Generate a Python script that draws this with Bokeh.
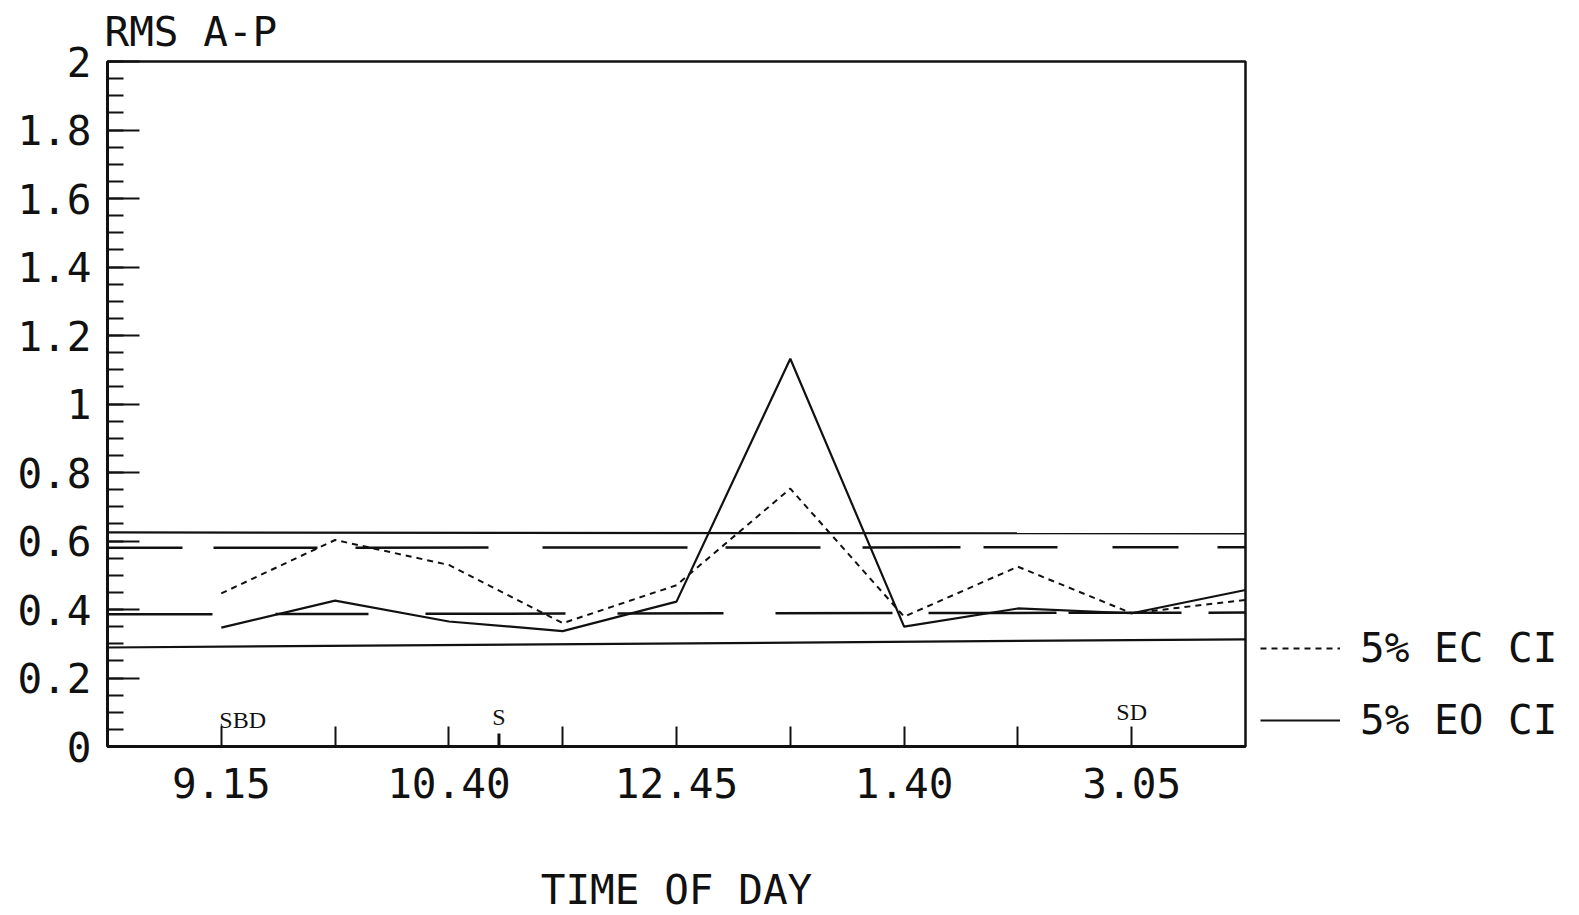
import math

from bokeh.core.properties import value
from bokeh.embed import file_html
from bokeh.models import FixedTicker, Legend, LegendItem, Range1d
from bokeh.plotting import figure
from bokeh.resources import INLINE

# Recording slots through the day and the RMS A-P sway for each record
slot = [1, 2, 3, 4, 5, 6, 7, 8, 9, 10]
rms_ec = [0.447, 0.603, 0.530, 0.360, 0.471, 0.753, 0.379, 0.525, 0.389, 0.428]
rms_eo = [0.347, 0.426, 0.365, 0.337, 0.423, 1.132, 0.350, 0.403, 0.389, 0.457]

# 5% confidence limits, value at the left and right ends of the axis
band_x = [0, 10]
eo_ci_upper = [0.625, 0.622]
eo_ci_lower = [0.289, 0.313]
ec_ci_upper = [0.580, 0.582]
ec_ci_lower = [0.386, 0.391]

# Axis ticks and labels
x_ticks = [1, 2, 3, 4, 5, 6, 7, 8, 9]
x_tick_labels = ["9.15", "", "10.40", "", "12.45", "", "1.40", "", "3.05"]
y_ticks = [0, 0.2, 0.4, 0.6, 0.8, 1, 1.2, 1.4, 1.6, 1.8, 2]
y_tick_labels = ["0", "0.2", "0.4", "0.6", "0.8", "1", "1.2", "1.4", "1.6", "1.8", "2"]
y_minor_ticks = [i * 0.05 for i in range(41)]

# Events marked along the time axis
event_x = [1, 3.44, 9]
event_labels = ["SBD", "S", "SD"]

FONT = "DejaVu Sans Mono"
SERIF = "Liberation Serif"
INK = "#111111"

p = figure(
    frame_width=1138,
    frame_height=685,
    x_range=Range1d(0, 10),
    y_range=Range1d(0, 2),
    output_backend="svg",
    toolbar_location=None,
    min_border_left=107,
    min_border_right=0,
    min_border_top=60,
    min_border_bottom=170,
)
p.grid.visible = False
p.background_fill_color = "white"
p.border_fill_color = "white"
p.outline_line_color = INK
p.outline_line_width = 2.5

# Y axis title sits above the frame, flush with its left edge
p.title.text = "RMS A-P"
p.title.align = "left"
p.title.text_font = FONT
p.title.text_font_size = "41px"
p.title.text_font_style = "normal"
p.title.text_color = INK
p.title.standoff = 11
p.title.offset = -3

# Y axis: ticks point into the frame
ya = p.yaxis[0]
ya.ticker = FixedTicker(ticks=y_ticks, minor_ticks=y_minor_ticks)
ya.major_label_overrides = dict(zip(y_ticks, y_tick_labels))
ya.major_tick_in = 32
ya.major_tick_out = 0
ya.minor_tick_in = 16
ya.minor_tick_out = 0
ya.major_tick_line_width = 2
ya.minor_tick_line_width = 2
ya.major_tick_line_color = INK
ya.minor_tick_line_color = INK
ya.axis_line_width = 3
ya.axis_line_color = INK
ya.major_label_standoff = 16
ya.major_label_text_font = FONT
ya.major_label_text_font_size = "41px"
ya.major_label_text_color = INK

# X axis: time of day
xa = p.xaxis[0]
xa.ticker = FixedTicker(ticks=x_ticks, minor_ticks=[])
xa.major_label_overrides = dict(zip(x_ticks, x_tick_labels))
xa.major_tick_in = 20
xa.major_tick_out = 0
xa.major_tick_line_width = 2
xa.major_tick_line_color = INK
xa.axis_line_width = 3
xa.axis_line_color = INK
xa.major_label_standoff = 21
xa.major_label_text_font = FONT
xa.major_label_text_font_size = "41px"
xa.major_label_text_color = INK
xa.axis_label = "TIME OF DAY"
xa.axis_label_text_font = FONT
xa.axis_label_text_font_size = "41px"
xa.axis_label_text_font_style = "normal"
xa.axis_label_text_color = INK
xa.axis_label_standoff = 65

# Confidence limits
p.line(band_x, eo_ci_upper, line_color=INK, line_width=2.2)
p.line(band_x, eo_ci_lower, line_color=INK, line_width=2.2)
p.line(band_x, ec_ci_upper, line_color=INK, line_width=2.5,
       line_dash="75 31 104 38 133 54 145 38 95 42 98 23 74 55 66 39")
p.line(band_x, ec_ci_lower, line_color=INK, line_width=2.5,
       line_dash="105 63 93 57 140 52 106 52 117 36 128 12 113 27")

# Measured series
ec_line = p.line(slot, rms_ec, line_color=INK, line_width=2, line_dash="6 5")
eo_line = p.line(slot, rms_eo, line_color=INK, line_width=2.2)

# Event markers on the time axis
p.scatter([event_x[1]], [0], marker="dash", size=26, angle=math.pi / 2,
          line_color=INK, line_width=3)
p.text(x=event_x[:1], y=[0], text=event_labels[:1], text_align="left",
       text_baseline="alphabetic", x_offset=-2, y_offset=-27,
       text_font=value(SERIF), text_font_size="24px", text_color=INK)
p.text(x=event_x[1:2], y=[0], text=event_labels[1:2], text_align="center",
       text_baseline="alphabetic", y_offset=-30,
       text_font=value(SERIF), text_font_size="24px", text_color=INK)
p.text(x=event_x[2:], y=[0], text=event_labels[2:], text_align="center",
       text_baseline="alphabetic", y_offset=-35,
       text_font=value(SERIF), text_font_size="24px", text_color=INK)

legend = Legend(
    items=[LegendItem(label="5% EC CI", renderers=[ec_line]),
           LegendItem(label="5% EO CI", renderers=[eo_line])],
    location=(15, 2),
    orientation="vertical",
    padding=0,
    margin=0,
    spacing=24,
    glyph_width=80,
    glyph_height=40,
    label_height=40,
    label_standoff=20,
    label_text_font=FONT,
    label_text_font_size="41px",
    label_text_color=INK,
    border_line_color=None,
    background_fill_alpha=0,
)
p.add_layout(legend, "right")

open("out.html", "w").write(file_html(p, INLINE))
